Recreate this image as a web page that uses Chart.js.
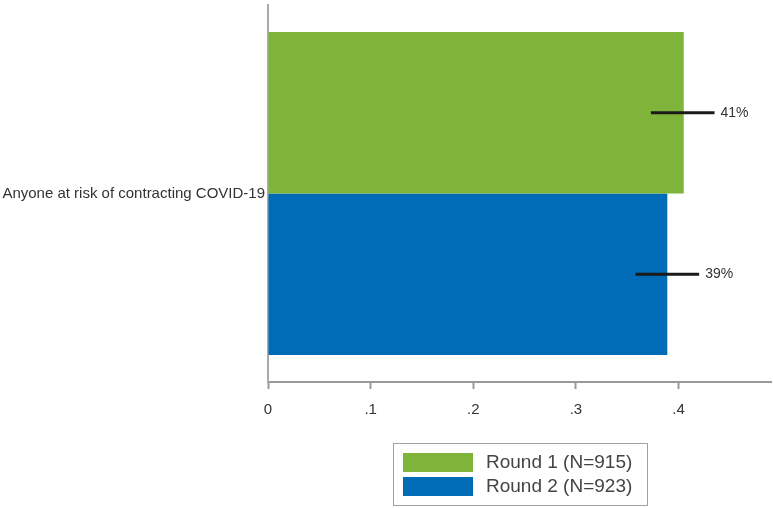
<!DOCTYPE html>
<html>
<head>
<meta charset="utf-8">
<script src="https://cdn.jsdelivr.net/npm/chart.js@4"></script>
<style>
  body { margin: 0; background: #fff; font-family: "Liberation Sans", Arial, sans-serif; }
  #wrap { position: relative; width: 773px; height: 508px; }
  #legend {
    position: absolute; left: 393px; top: 443px; width: 255px; height: 63px;
    border: 1px solid #a0a0a0; box-sizing: border-box; padding: 6px 0 0 9px;
  }
  .item { display: flex; align-items: center; height: 24px; font-size: 19px; color: #444; }
  .swatch { width: 70px; height: 19px; margin-right: 13px; }
</style>
</head>
<body>
<div id="wrap">
  <canvas id="myChart" width="773" height="508"></canvas>
  <div id="legend"></div>
</div>
<script>
const categories = ["Anyone at risk of contracting COVID-19"];
const seriesNames = ["Round 1 (N=915)", "Round 2 (N=923)"];
const round1 = [0.405];
const round2 = [0.389];
const round1Low = [0.373];
const round1High = [0.435];
const round2Low = [0.358];
const round2High = [0.42];
const pctLabels = [["41%"], ["39%"]];
const xTicks = [0, 0.1, 0.2, 0.3, 0.4];

const colors = ["#7fb43b", "#006bb6"];

/* ---------- ERROR BARS + LABELS ---------- */
const ciPlugin = {
  id: "ci",
  afterDatasetsDraw(chart) {
    const ctx = chart.ctx;
    const x = chart.scales.x;
    const lows = [round1Low, round2Low];
    const highs = [round1High, round2High];
    chart.data.datasets.forEach((ds, di) => {
      const meta = chart.getDatasetMeta(di);
      meta.data.forEach((bar, i) => {
        const x1 = x.getPixelForValue(lows[di][i]);
        const x2 = x.getPixelForValue(highs[di][i]);
        ctx.save();
        ctx.strokeStyle = "#1a1a1a";
        ctx.lineWidth = 3;
        ctx.beginPath();
        ctx.moveTo(x1, bar.y);
        ctx.lineTo(x2, bar.y);
        ctx.stroke();
        ctx.fillStyle = "#333";
        ctx.font = "14px 'Liberation Sans', Arial, sans-serif";
        ctx.textBaseline = "middle";
        ctx.fillText(pctLabels[di][i], x2 + 6, bar.y);
        ctx.restore();
      });
    });
  }
};

const ctx = document.getElementById("myChart").getContext("2d");
const chart = new Chart(ctx, {
  type: "bar",
  data: {
    labels: categories,
    datasets: [
      { label: seriesNames[0], data: round1, backgroundColor: colors[0] },
      { label: seriesNames[1], data: round2, backgroundColor: colors[1] }
    ]
  },
  options: {
    indexAxis: "y",
    responsive: false,
    animation: false,
    layout: { padding: { top: 5, right: 2 } },
    categoryPercentage: 0.857,
    barPercentage: 1,
    plugins: { legend: { display: false }, tooltip: { enabled: false } },
    scales: {
      x: {
        min: 0,
        max: 0.49,
        afterFit: (s) => { s.height = 126; },
        afterBuildTicks: (s) => { s.ticks = xTicks.map(v => ({ value: v })); },
        grid: { drawOnChartArea: false, drawTicks: true, tickLength: 7, tickColor: "#999", tickWidth: 2 },
        border: { display: true, color: "#999", width: 2 },
        ticks: {
          padding: 12,
          color: "#333",
          font: { size: 15, family: "'Liberation Sans', Arial, sans-serif" },
          callback: (v) => v === 0 ? "0" : String(+v.toFixed(1)).replace(/^0/, "")
        }
      },
      y: {
        afterFit: (s) => { s.width = 268; s.paddingTop = 0; s.paddingBottom = 0; },
        grid: { display: false, drawTicks: false },
        border: { display: true, color: "#aaa", width: 2 },
        ticks: {
          padding: 3,
          color: "#333",
          font: { size: 15, family: "'Liberation Sans', Arial, sans-serif" }
        }
      }
    }
  },
  plugins: [ciPlugin]
});

/* ---------- LEGEND ---------- */
const legend = document.getElementById("legend");
chart.data.datasets.forEach(ds => {
  const item = document.createElement("div");
  item.className = "item";
  item.innerHTML = `<span class="swatch" style="background:${ds.backgroundColor}"></span>${ds.label}`;
  legend.appendChild(item);
});
</script>
</body>
</html>
